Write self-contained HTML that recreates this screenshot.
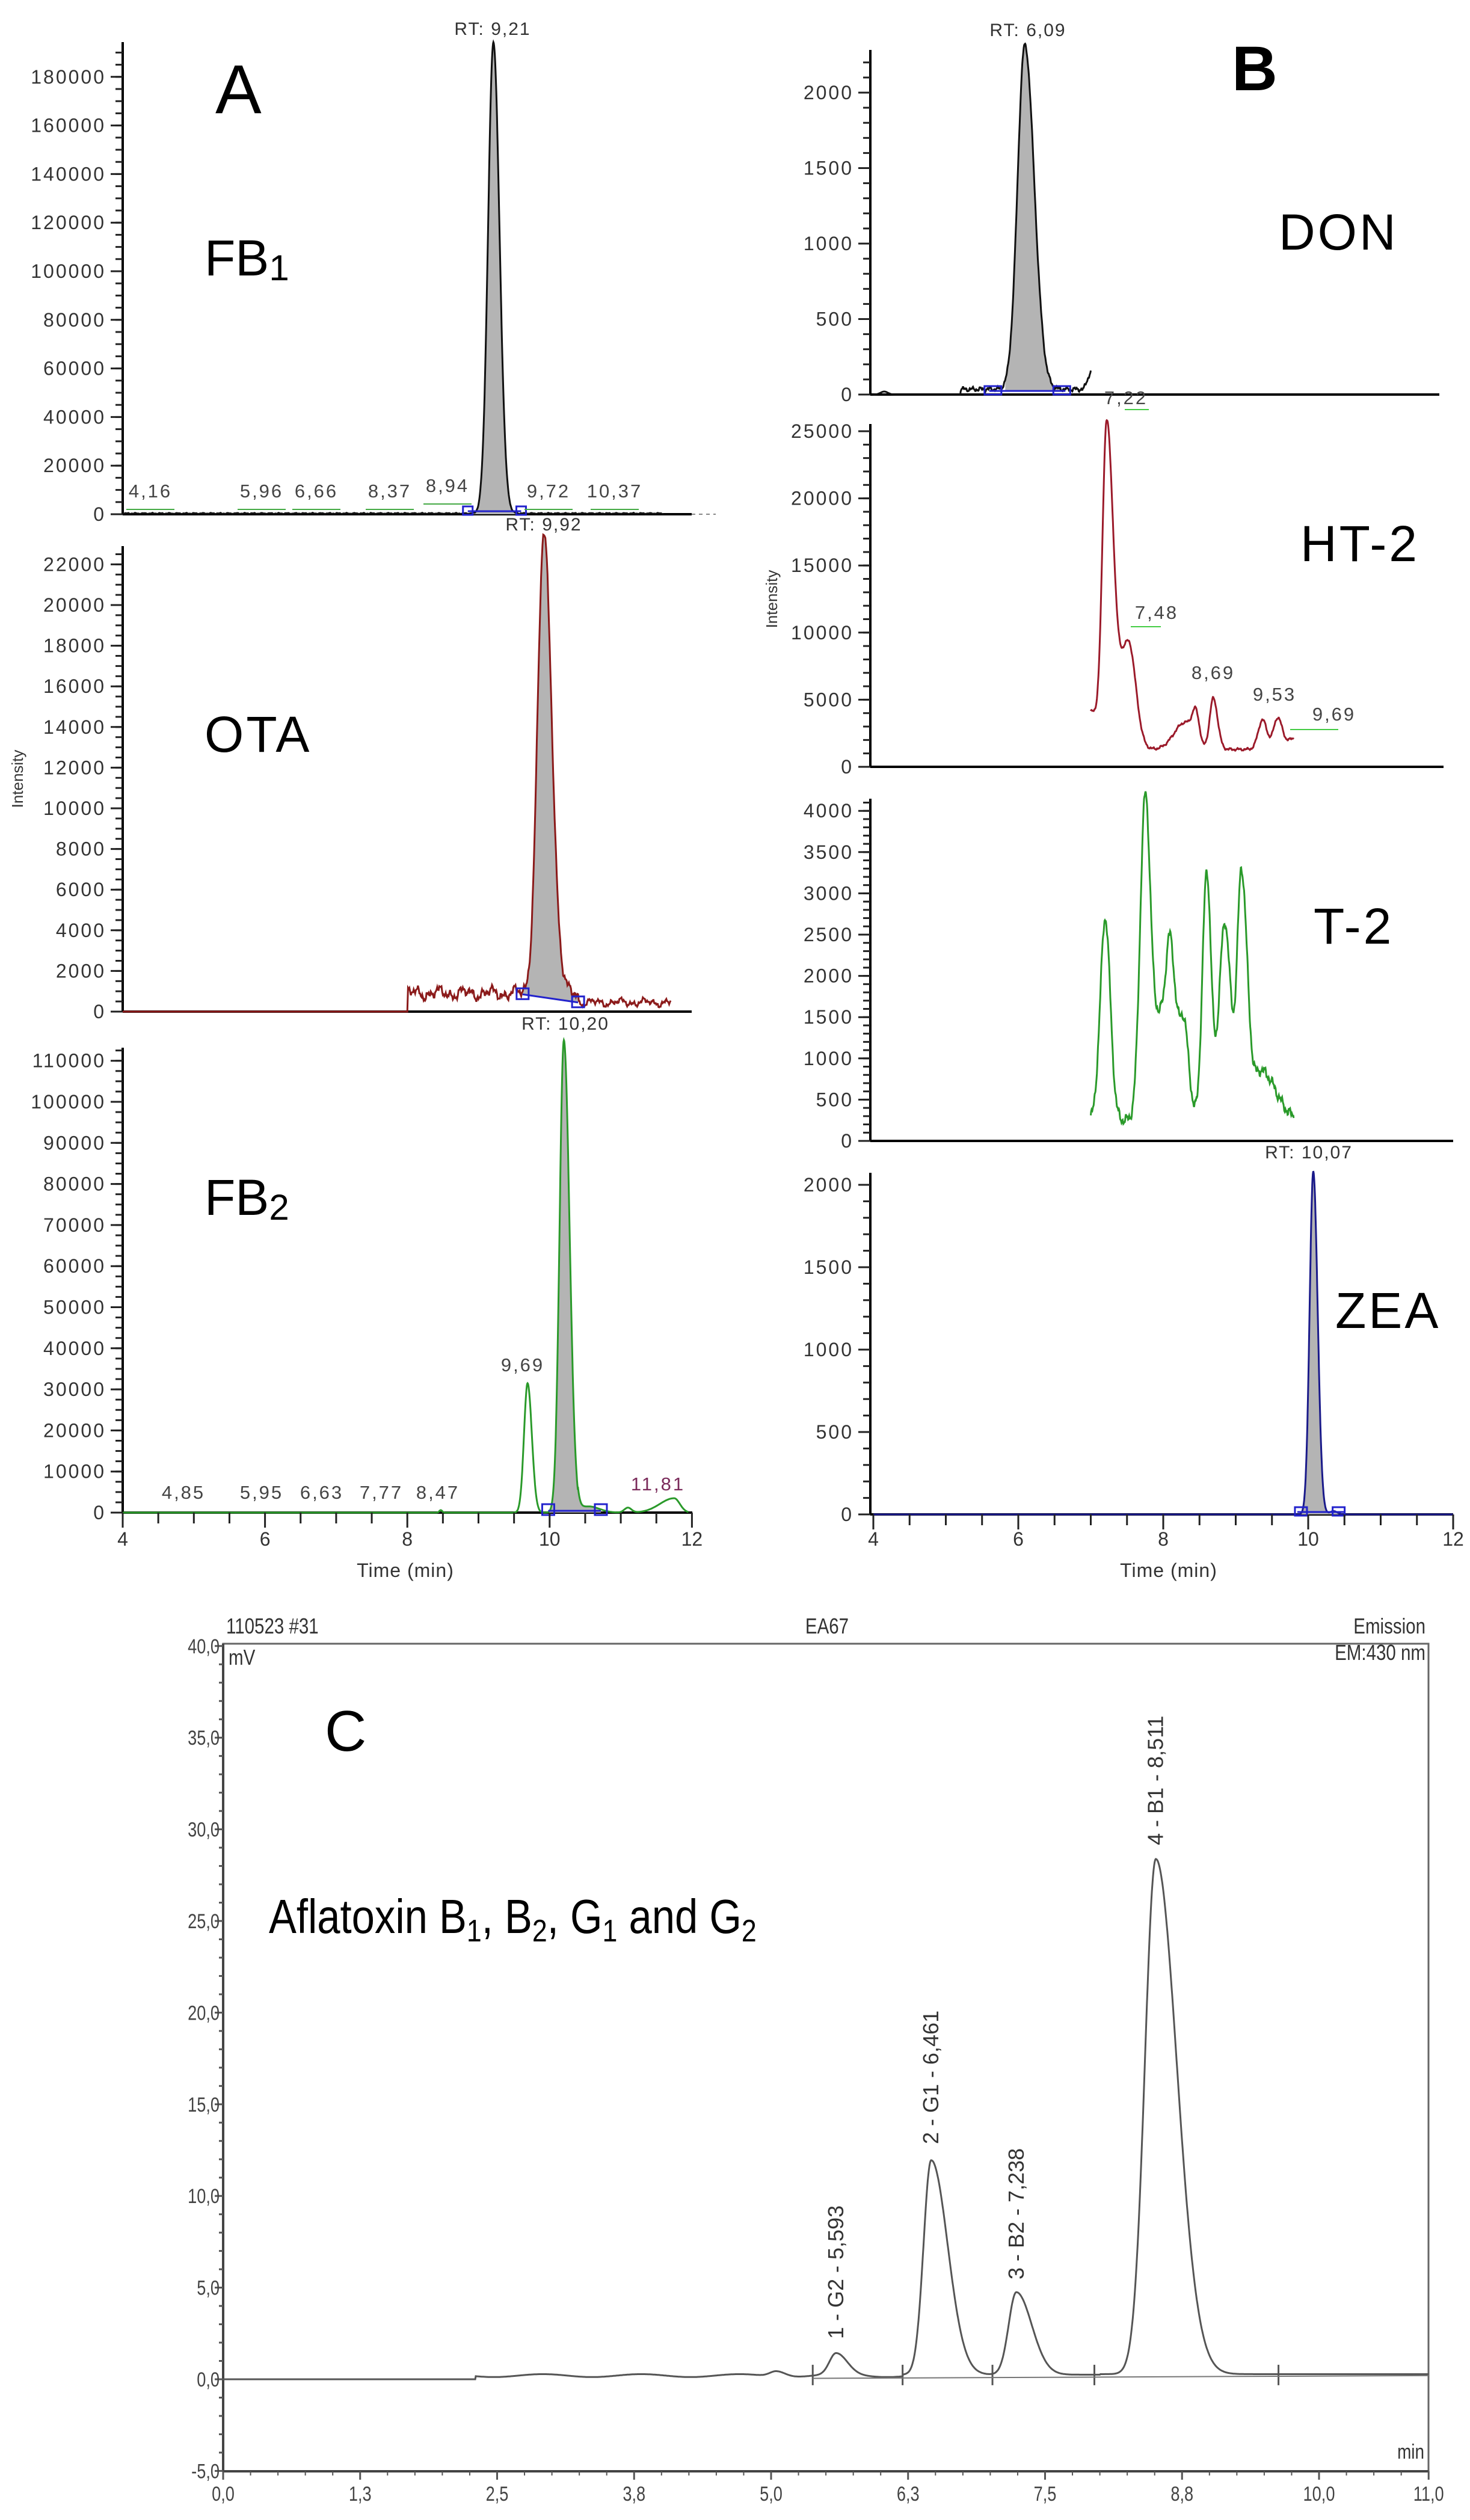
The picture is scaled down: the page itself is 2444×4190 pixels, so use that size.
<!DOCTYPE html>
<html><head><meta charset="utf-8">
<style>
html,body{margin:0;padding:0;background:#fff;}
svg{display:block;}
text{font-family:"Liberation Sans",sans-serif;}
</style></head>
<body>
<svg id="s" xmlns="http://www.w3.org/2000/svg" width="2444" height="4190" viewBox="0 0 2444 4190">
<rect width="2444" height="4190" fill="#fff"/>
<g id="g"></g>
</svg>
<script>
const G=document.getElementById('g');let out='';
function add(s){out+=s;}
function gauss(t,c,s1,s2){const s=t<c?s1:s2;return Math.exp(-0.5*((t-c)/s)**2);}
function noise(t,a){return a*(Math.sin(t*53)*0.5+Math.sin(t*131+1)*0.3+Math.sin(t*277+2)*0.2);}
function noise2(t,a){return a*(Math.sin(t*17.3)*0.35+Math.sin(t*41.7+1)*0.3+Math.sin(t*97.1+2)*0.2+Math.sin(t*211+3)*0.15);}
function path(fn,t0,t1,X,Y,dt){let d='';for(let t=t0;t<=t1+1e-9;t+=dt){d+=(d?'L':'M')+X(t).toFixed(1)+','+Y(fn(t)).toFixed(1);}return d;}
function txt(x,y,s,size,opts){opts=opts||{};add(`<text x="${x}" y="${y}" font-size="${size}" fill="${opts.fill||'#333'}" text-anchor="${opts.a||'start'}" ${opts.ls?'letter-spacing="'+opts.ls+'"':''} ${opts.extra||''}>${s}</text>`);}

function panel(o){
 const X=t=>o.x4+(t-4)*o.px; const Y=v=>o.y0-v*o.k;
 add(`<line x1="${o.ax}" y1="${o.top}" x2="${o.ax}" y2="${o.y0}" stroke="#000" stroke-width="4"/>`);
 for(let v=0;Y(v)>=o.top;v+=o.minor){add(`<line x1="${o.ax-12}" y1="${Y(v)}" x2="${o.ax}" y2="${Y(v)}" stroke="#222" stroke-width="3"/>`);}
 for(let v=0;v<=o.max;v+=o.major){add(`<line x1="${o.ax-20}" y1="${Y(v)}" x2="${o.ax}" y2="${Y(v)}" stroke="#222" stroke-width="3"/>`);txt(o.ax-28,Y(v)+11,v,32,{a:'end',ls:3});}
 add(`<line x1="${o.ax}" y1="${o.y0}" x2="${o.xend}" y2="${o.y0}" stroke="#000" stroke-width="4"/>`);
 return {X,Y};
}
const Ax4=204,Apx=118.3;
let p=panel({x4:Ax4,px:Apx,ax:204,top:70,y0:855,k:80.8/20000,minor:5000,major:20000,max:180000,xend:1150});
add(`<line x1="1150" y1="855" x2="1190" y2="855" stroke="#888" stroke-width="2" stroke-dasharray="6,6"/>`);
{const f=t=>194000*gauss(t,9.21,0.075,0.085)+noise(t,300)+300;
 const d=path(f,8.85,9.6,p.X,p.Y,0.005);
 add(`<path d="${d}L${p.X(9.6)},855L${p.X(8.85)},855Z" fill="#b4b4b4"/>`);
 add(`<path d="${path(f,4.0,11.6,p.X,p.Y,0.005)}" fill="none" stroke="#111" stroke-width="3"/>`);
 add(`<line x1="${p.X(8.85)}" y1="850" x2="${p.X(9.6)}" y2="850" stroke="#22c" stroke-width="3"/>`);
 add(`<rect x="${p.X(8.85)-8}" y="842" width="16" height="14" fill="none" stroke="#22c" stroke-width="3"/><rect x="${p.X(9.6)-8}" y="842" width="16" height="14" fill="none" stroke="#22c" stroke-width="3"/>`);
 [[4.16,250,827],[5.96,435,827],[6.66,526,827],[8.37,648,827],[8.94,744,818],[9.72,912,827],[10.37,1022,827]].forEach(a=>{txt(a[1],a[2],String(a[0]).replace('.',','),31,{a:'middle',ls:3,fill:'#444'});add(`<line x1="${a[1]-40}" y1="${a[2]+20}" x2="${a[1]+40}" y2="${a[2]+20}" stroke="#4a4" stroke-width="2"/>`);});
 txt(819,58,'RT: 9,21',30,{a:'middle',ls:2});
}
txt(358,188,'A',115,{fill:'#000'});
txt(340,458,'FB<tspan font-size="60" dy="8">1</tspan>',84,{fill:'#000'});
p=panel({x4:Ax4,px:Apx,ax:204,top:908,y0:1682,k:67.6/2000,minor:500,major:2000,max:22000,xend:1150});
{const f=t=>{let v=0;if(t>=8.0&&t<11.7){v=900+noise2(t,500); if(t>10.4) v=450+noise2(t,300);}
  return v+22500*gauss(t,9.92,0.09,0.11);};
 const d=path(f,9.62,10.4,p.X,p.Y,0.005);
 add(`<path d="${d}L${p.X(10.4)},${p.Y(450)}L${p.X(9.62)},${p.Y(850)}Z" fill="#b4b4b4"/>`);
 add(`<path d="${path(f,4.0,11.7,p.X,p.Y,0.01)}" fill="none" stroke="#8b1a1a" stroke-width="3"/>`);
 add(`<line x1="${p.X(9.62)}" y1="${p.Y(850)}" x2="${p.X(10.4)}" y2="${p.Y(450)}" stroke="#22c" stroke-width="3"/>`);
 add(`<rect x="${p.X(9.62)-10}" y="${p.Y(850)-10}" width="20" height="18" fill="none" stroke="#22c" stroke-width="3"/><rect x="${p.X(10.4)-10}" y="${p.Y(450)-10}" width="20" height="18" fill="none" stroke="#22c" stroke-width="3"/>`);
 txt(904,882,'RT: 9,92',30,{a:'middle',ls:2});
}
txt(340,1250,'OTA',84,{fill:'#000',ls:4});
txt(38,1295,'Intensity',26,{a:'middle',fill:'#333',extra:'transform="rotate(-90 38 1295)"'});
p=panel({x4:Ax4,px:Apx,ax:204,top:1742,y0:2515,k:68.3/10000,minor:2500,major:10000,max:110000,xend:1151});
{const f=t=>31500*gauss(t,9.69,0.05,0.06)+115000*gauss(t,10.2,0.06,0.08)+1200*gauss(t,11.1,0.05,0.05)+3500*gauss(t,11.75,0.2,0.08)+(t>10.4&&t<11.2?1500*gauss(t,10.55,0.15,0.15):0)+600*gauss(t,8.47,0.02,0.02);
 const d=path(f,9.98,10.72,p.X,p.Y,0.005);
 add(`<path d="${d}L${p.X(10.72)},2515L${p.X(9.98)},2515Z" fill="#b4b4b4"/>`);
 add(`<path d="${path(f,4.0,11.95,p.X,p.Y,0.005)}" fill="none" stroke="#2a9a2a" stroke-width="3"/>`);
 add(`<line x1="${p.X(9.98)}" y1="2512" x2="${p.X(10.72)}" y2="2512" stroke="#22c" stroke-width="3"/>`);
 add(`<rect x="${p.X(9.98)-10}" y="2501" width="20" height="18" fill="none" stroke="#22c" stroke-width="3"/><rect x="${p.X(10.72)-10}" y="2501" width="20" height="18" fill="none" stroke="#22c" stroke-width="3"/>`);
 [[4.85,305],[5.95,435],[6.63,535],[7.77,634],[8.47,728]].forEach(a=>txt(a[1],2492,String(a[0]).replace('.',','),31,{a:'middle',ls:3,fill:'#444'}));
 txt(869,2280,'9,69',31,{a:'middle',ls:3,fill:'#444'});
 txt(1094,2478,'11,81',31,{a:'middle',ls:3,fill:'#7a2a5a'});
 txt(940,1712,'RT: 10,20',30,{a:'middle',ls:2});
}
txt(340,2020,'FB<tspan font-size="60" dy="8">2</tspan>',84,{fill:'#000'});
for(let t=4;t<=12.001;t+=0.5){const x=Ax4+(t-4)*Apx;const big=Math.abs(t-Math.round(t/2)*2)<0.01;add(`<line x1="${x}" y1="2515" x2="${x}" y2="${big?2540:2533}" stroke="#222" stroke-width="3"/>`);if(big)txt(x,2570,t,32,{a:'middle'});}
txt(674,2622,'Time (min)',32,{a:'middle',ls:1});

const Bx4=1452,Bpx=120.5;
p=panel({x4:Bx4,px:Bpx,ax:1447,top:83,y0:656,k:125.5/500,minor:100,major:500,max:2000,xend:2393});
{const f=t=>{let v=2280*gauss(t,6.09,0.1,0.13);if(t<4.3)v+=20*gauss(t,4.15,0.05,0.05);if(t>5.2)v+=20+noise(t,18)+15;if(t>6.9)v+=(t-6.9)*1200;return v;};
 const d=path(f,5.82,6.62,p.X,p.Y,0.005);
 add(`<path d="${d}L${p.X(6.62)},650L${p.X(5.82)},650Z" fill="#b4b4b4"/>`);
 add(`<path d="${path(f,4.0,7.0,p.X,p.Y,0.005)}" fill="none" stroke="#111" stroke-width="3"/>`);
 add(`<line x1="${p.X(5.6)}" y1="650" x2="${p.X(6.65)}" y2="650" stroke="#22c" stroke-width="3"/>`);
 add(`<rect x="${p.X(5.65)-14}" y="642" width="28" height="14" fill="none" stroke="#22c" stroke-width="3"/><rect x="${p.X(6.6)-14}" y="642" width="28" height="14" fill="none" stroke="#22c" stroke-width="3"/>`);
 txt(1709,60,'RT: 6,09',30,{a:'middle',ls:2});
}
txt(2048,150,'B',105,{fill:'#000',extra:'font-weight="bold"'});
txt(2126,415,'DON',84,{fill:'#000',ls:4});
p=panel({x4:Bx4,px:Bpx,ax:1447,top:705,y0:1275,k:111.6/5000,minor:1000,major:5000,max:25000,xend:2400});
{const f=t=>1300+2800*gauss(t,7.0,0.05,0.1)+24000*gauss(t,7.22,0.06,0.09)+8000*gauss(t,7.52,0.12,0.1)+2000*gauss(t,8.3,0.15,0.1)+2400*gauss(t,8.45,0.05,0.05)+3800*gauss(t,8.69,0.05,0.06)+2200*gauss(t,9.37,0.06,0.06)+2300*gauss(t,9.58,0.06,0.06)+800*gauss(t,9.8,0.1,0.1)+noise(t,120);
 add(`<path d="${path(f,7.0,9.8,p.X,p.Y,0.005)}" fill="none" stroke="#9b1a2a" stroke-width="3"/>`);
 const L=[[7.22,1872,672],[7.48,1923,1029],[8.69,2017,1129],[9.53,2119,1165],[9.69,2218,1198]];
 L.forEach(a=>txt(a[1],a[2],String(a[0]).replace('.',','),31,{a:'middle',ls:3,fill:'#444'}));
 add(`<line x1="1870" y1="681" x2="1910" y2="681" stroke="#4c4" stroke-width="2"/><line x1="1880" y1="1042" x2="1930" y2="1042" stroke="#4c4" stroke-width="2"/><line x1="2145" y1="1213" x2="2225" y2="1213" stroke="#4c4" stroke-width="2"/>`);
}
txt(2162,933,'HT-2',84,{fill:'#000',ls:4});
txt(1292,996,'Intensity',26,{a:'middle',extra:'transform="rotate(-90 1292 996)"'});
p=panel({x4:Bx4,px:Bpx,ax:1447,top:1328,y0:1897,k:68.6/500,minor:100,major:500,max:4000,xend:2416});
{const f=t=>250+2450*gauss(t,7.2,0.07,0.07)+3800*gauss(t,7.75,0.07,0.07)+1200*gauss(t,7.95,0.1,0.1)+1800*gauss(t,8.1,0.06,0.07)+1200*gauss(t,8.28,0.07,0.07)+3000*gauss(t,8.6,0.06,0.06)+2400*gauss(t,8.85,0.08,0.08)+3000*gauss(t,9.08,0.06,0.08)+600*gauss(t,9.35,0.1,0.2)+noise(t,80);
 add(`<path d="${path(f,7.0,9.8,p.X,p.Y,0.005)}" fill="none" stroke="#2a9a2a" stroke-width="3"/>`);
}
txt(2184,1569,'T-2',84,{fill:'#000',ls:4});
p=panel({x4:Bx4,px:Bpx,ax:1447,top:1950,y0:2518,k:137/500,minor:100,major:500,max:2000,xend:2416});
{const f=t=>2080*gauss(t,10.07,0.05,0.06)+20*gauss(t,10.35,0.05,0.05);
 const d=path(f,9.9,10.42,p.X,p.Y,0.004);
 add(`<path d="${d}L${p.X(10.42)},2518L${p.X(9.9)},2518Z" fill="#b4b4b4"/>`);
 add(`<path d="${path(f,4.0,12,p.X,p.Y,0.004)}" fill="none" stroke="#1a1a8a" stroke-width="3"/>`);
 add(`<line x1="${p.X(9.85)}" y1="2514" x2="${p.X(10.5)}" y2="2514" stroke="#22c" stroke-width="3"/>`);
 add(`<rect x="${p.X(9.9)-10}" y="2506" width="20" height="14" fill="none" stroke="#22c" stroke-width="3"/><rect x="${p.X(10.42)-10}" y="2506" width="20" height="14" fill="none" stroke="#22c" stroke-width="3"/>`);
 txt(2176,1926,'RT: 10,07',30,{a:'middle',ls:2});
}
txt(2220,2208,'ZEA',84,{fill:'#000',ls:4});
for(let t=4;t<=12.001;t+=0.5){const x=Bx4+(t-4)*Bpx;const big=Math.abs(t-Math.round(t/2)*2)<0.01;add(`<line x1="${x}" y1="2518" x2="${x}" y2="${big?2543:2536}" stroke="#222" stroke-width="3"/>`);if(big)txt(x,2570,t,32,{a:'middle'});}
txt(1943,2622,'Time (min)',32,{a:'middle',ls:1});

{const L=371,R=2375,T=2733,B=4109;const X=t=>L+t*182.2;const Y=v=>3956-v*30.48;
 add(`<rect x="${L}" y="${T}" width="${R-L}" height="${B-T}" fill="none" stroke="#666" stroke-width="3"/>`);
 add(`<line x1="${L}" y1="${T}" x2="${L}" y2="${B}" stroke="#444" stroke-width="4"/><line x1="${L}" y1="${B}" x2="${R}" y2="${B}" stroke="#444" stroke-width="4"/>`);
 for(let v=-5;v<=40;v+=1){const y=Y(v);const big=v%5==0;add(`<line x1="${L-(big?14:7)}" y1="${y}" x2="${L}" y2="${y}" stroke="#555" stroke-width="3"/>`);if(big)txt(L-6,y+12,v.toFixed(1).replace('.',','),34,{a:'end',fill:'#444',extra:'transform="translate('+(L-6)+' 0) scale(0.8 1) translate('+(-(L-6))+' 0)"'});}
 [0,1.25,2.5,3.75,5.0,6.25,7.5,8.75,10,11].forEach((t,i)=>{const lab=['0,0','1,3','2,5','3,8','5,0','6,3','7,5','8,8','10,0','11,0'][i];const x=X(t);add(`<line x1="${x}" y1="${B}" x2="${x}" y2="${B+14}" stroke="#555" stroke-width="3"/>`);txt(x,4158,lab,34,{a:'middle',fill:'#444',extra:'transform="translate('+x+' 0) scale(0.8 1) translate('+(-x)+' 0)"'});});
 for(let t=0;t<11;t+=0.25){add(`<line x1="${X(t)}" y1="${B}" x2="${X(t)}" y2="${B+7}" stroke="#555" stroke-width="2"/>`);}
 const f=t=>{let b=0;if(t>2.3)b=0.2+0.08*Math.sin(t*7);if(t>6.2)b=0.25;if(t>8)b=0.28;
  return b+0.3*gauss(t,5.05,0.06,0.08)+1.15*gauss(t,5.593,0.06,0.1)+11.7*gauss(t,6.461,0.07,0.15)+4.5*gauss(t,7.238,0.07,0.14)+28.1*gauss(t,8.511,0.1,0.19);};
 add(`<path d="${path(f,0,11,X,Y,0.005)}" fill="none" stroke="#555" stroke-width="3"/>`);
 [5.38,6.2,7.02,7.95,9.63].forEach(t=>add(`<line x1="${X(t)}" y1="${Y(0.2)-18}" x2="${X(t)}" y2="${Y(0.2)+16}" stroke="#555" stroke-width="3"/>`));
 add(`<line x1="${X(5.38)}" y1="${Y(0.05)}" x2="${R}" y2="${Y(0.2)}" stroke="#777" stroke-width="2"/>`);
 const pl=[[5.593,3889,'1 - G2 - 5,593'],[6.461,3565,'2 - G1 - 6,461'],[7.238,3790,'3 - B2 - 7,238'],[8.511,3068,'4 - B1 - 8,511']];
 pl.forEach(a=>{const x=X(a[0])+12;txt(x,a[1],a[2],36,{fill:'#333',extra:'transform="rotate(-90 '+x+' '+a[1]+')"'});});
 txt(376,2716,'110523 #31',36,{fill:'#333',extra:'transform="translate(376 0) scale(0.82 1) translate(-376 0)"'});
 txt(1375,2716,'EA67',36,{a:'middle',fill:'#333',extra:'transform="translate(1375 0) scale(0.82 1) translate(-1375 0)"'});
 txt(2370,2716,'Emission',36,{a:'end',fill:'#333',extra:'transform="translate(2370 0) scale(0.82 1) translate(-2370 0)"'});
 txt(2370,2760,'EM:430 nm',36,{a:'end',fill:'#333',extra:'transform="translate(2370 0) scale(0.82 1) translate(-2370 0)"'});
 txt(380,2768,'mV',36,{fill:'#333',extra:'transform="translate(380 0) scale(0.82 1) translate(-380 0)"'});
 txt(2368,4088,'min',34,{a:'end',fill:'#333',extra:'transform="translate(2368 0) scale(0.82 1) translate(-2368 0)"'});
 txt(540,2911,'C',96,{fill:'#000'});
 txt(447,3214,'Aflatoxin B<tspan font-size="52" dy="14">1</tspan><tspan dy="-14">, B</tspan><tspan font-size="52" dy="14">2</tspan><tspan dy="-14">, G</tspan><tspan font-size="52" dy="14">1</tspan><tspan dy="-14"> and G</tspan><tspan font-size="52" dy="14">2</tspan>',80,{fill:'#000',extra:'transform="translate(447 0) scale(0.86 1) translate(-447 0)"'});
}
G.innerHTML=out;
</script>
</body></html>
